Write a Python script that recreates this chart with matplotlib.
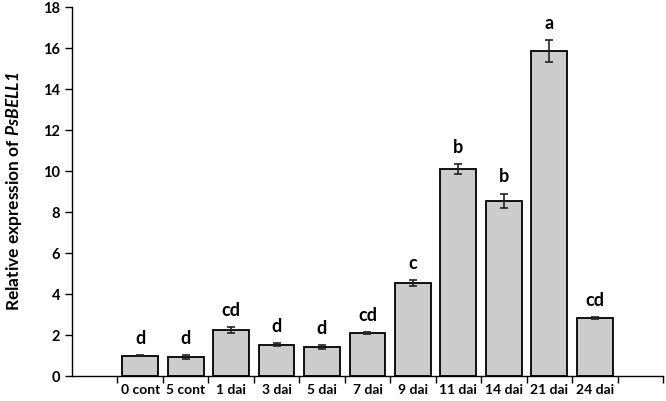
import matplotlib
matplotlib.use('Agg')
import matplotlib.pyplot as plt
import numpy as np

plt.rcParams['font.family'] = ['Lato', 'DejaVu Sans']
plt.rcParams['mathtext.fontset'] = 'custom'
plt.rcParams['mathtext.bfit'] = 'Lato:italic:bold'
plt.rcParams['mathtext.bf'] = 'Lato:bold'
plt.rcParams['mathtext.rm'] = 'Lato'

# 数据
categories = ['0 cont', '5 cont', '1 dai', '3 dai', '5 dai', '7 dai',
              '9 dai', '11 dai', '14 dai', '21 dai', '24 dai']
values = [1.0, 0.93, 2.25, 1.52, 1.40, 2.10, 4.52, 10.10, 8.55, 15.85, 2.82]
errors = [0.03, 0.08, 0.15, 0.08, 0.10, 0.05, 0.15, 0.25, 0.35, 0.55, 0.04]
letters = ['d', 'd', 'cd', 'd', 'd', 'cd', 'c', 'b', 'b', 'a', 'cd']

fig = plt.figure(figsize=(6.66, 4.01), dpi=100)
ax = fig.add_axes([0.108, 0.0623, 0.8875, 0.9202])

# 第一个和最后一个位置留空
x = np.arange(1, len(categories) + 1)
ax.bar(x, values, width=0.79, color='#cccccc', edgecolor='black', linewidth=1.3, zorder=2)
ax.errorbar(x, values, yerr=errors, fmt='none', ecolor='#222222', elinewidth=1.2,
            capsize=3, capthick=1.2, zorder=3)

for xi, v, e, lab in zip(x, values, errors, letters):
    ax.text(xi, v + e + 0.4, lab, ha='center', va='bottom',
            fontsize=13, fontweight='bold')

ax.set_xlim(-0.5, len(categories) + 1.5)
ax.set_ylim(0, 18)
ax.set_yticks(np.arange(0, 19, 2))
ax.set_xticks(x)
ax.set_xticklabels(categories, fontsize=10, fontweight='bold')
ax.set_xticks(np.arange(0.5, len(categories) + 2, 1.0), minor=True)
ax.tick_params(axis='x', which='major', length=0, pad=6)
ax.tick_params(axis='x', which='minor', length=5, width=1, direction='out')
ax.tick_params(axis='y', length=5, width=1, direction='out', labelsize=10.5)
for lab in ax.get_yticklabels():
    lab.set_fontweight('bold')

ax.spines['top'].set_visible(False)
ax.spines['right'].set_visible(False)
ax.spines['left'].set_linewidth(1)
ax.spines['bottom'].set_linewidth(1)

ax.set_ylabel(r'Relative expression of $\mathbfit{PsBELL1}$', fontsize=12.5,
              fontweight='bold', labelpad=14)

fig.savefig('out.png', dpi=100)
